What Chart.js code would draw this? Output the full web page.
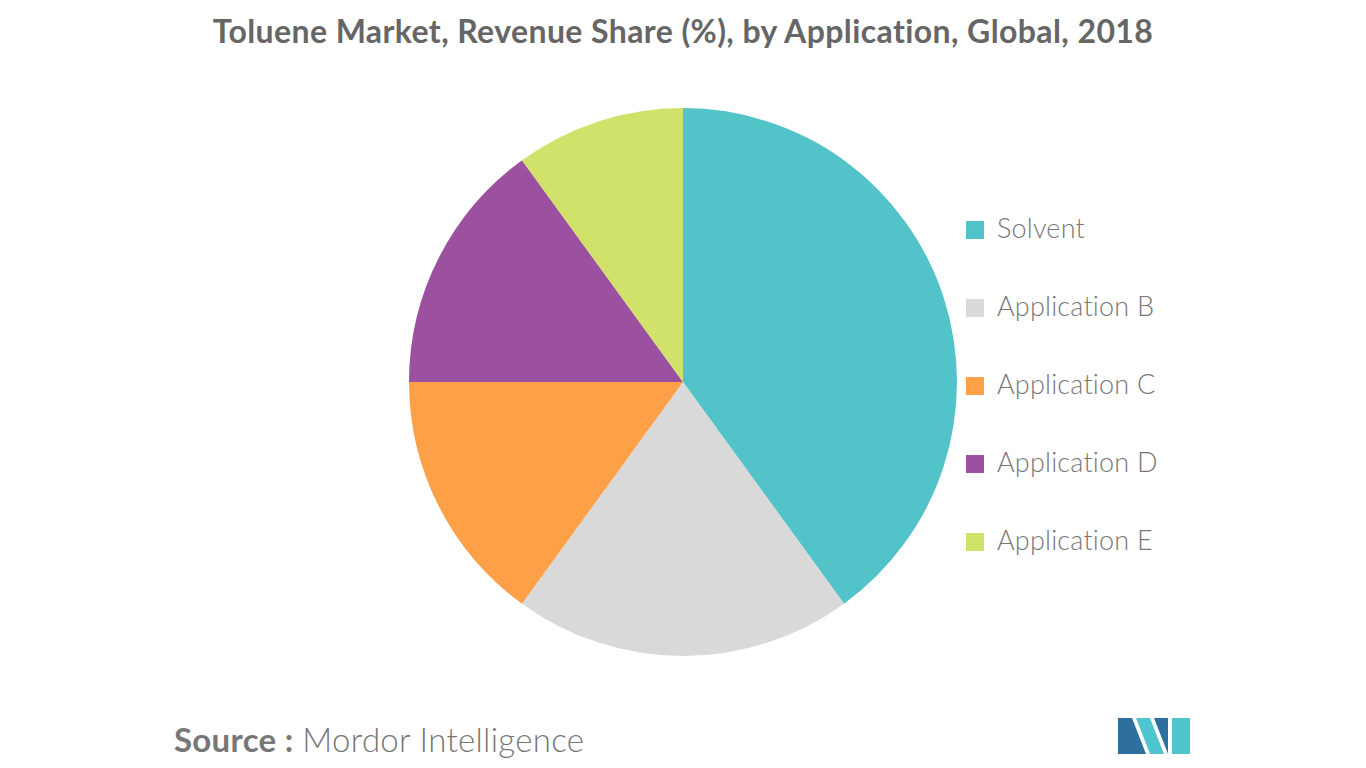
<!DOCTYPE html>
<html><head><meta charset="utf-8">
<script src="https://cdn.jsdelivr.net/npm/chart.js"></script>
<style>
body{margin:0;width:1366px;height:768px;background:#fff;font-family:Lato,"Open Sans",sans-serif;position:relative;overflow:hidden}
#title{position:absolute;top:11px;left:0;width:1366px;text-align:center;font-size:32px;font-weight:bold;color:#666;letter-spacing:0.4px}
#wrap{position:absolute;left:405px;top:104px;width:556px;height:556px}
#legend{position:absolute;left:966px;top:211px}
.li{height:78px;display:flex;align-items:flex-start;font-size:27px;color:#777;font-weight:300;letter-spacing:0.2px}
.sw{width:18px;height:18px;margin-right:13px;margin-top:10px}
#src{position:absolute;left:174px;top:719px;font-size:33px;color:#777;letter-spacing:0.3px}
#src span{font-weight:300}
</style></head><body>
<div id="title">Toluene Market, Revenue Share (%), by Application, Global, 2018</div>
<div id="wrap"><canvas id="c" width="556" height="556"></canvas></div>
<div id="legend"></div>
<div id="src"><b>Source :</b> <span>Mordor Intelligence</span></div>
<svg style="position:absolute;left:1118px;top:716px" width="74" height="38">
<polygon points="0,38 0,2 14,2 28,38" fill="#2f6f9e"/>
<polygon points="18,2 32,2 46,38 32,38" fill="#4fc6cf"/>
<polygon points="36,2 50,2 50,38" fill="#2f6f9e"/>
<polygon points="54,2 72,2 72,38 54,38" fill="#4fc6cf"/>
</svg>
<script>
const labels=["Solvent","Application B","Application C","Application D","Application E"];
const values=[40,20,15,15,10];
const colors=["#52c3c9","#d9d9d9","#fda048","#9c51a0","#d0e26a"];
new Chart(document.getElementById('c'),{type:'pie',data:{labels,datasets:[{data:values,backgroundColor:colors,borderWidth:0}]},
options:{responsive:false,animation:false,layout:{padding:4},plugins:{legend:{display:false},tooltip:{enabled:false}}}});
const lg=document.getElementById('legend');
labels.forEach((l,i)=>{lg.innerHTML+=`<div class="li"><div class="sw" style="background:${colors[i]}"></div>${l}</div>`;});
</script></body></html>
